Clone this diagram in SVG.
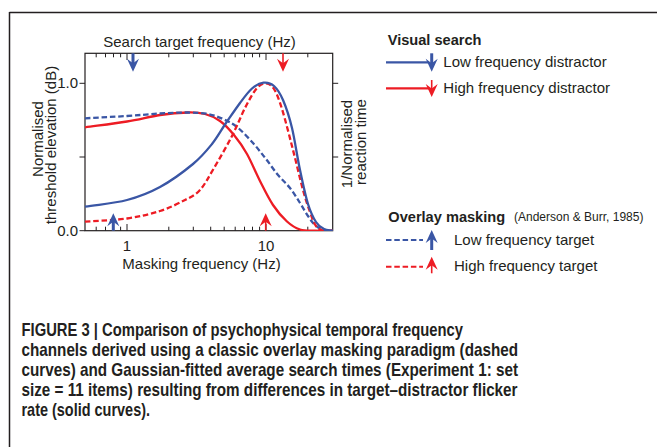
<svg xmlns="http://www.w3.org/2000/svg" xmlns:xlink="http://www.w3.org/1999/xlink" width="657" height="447" viewBox="0 0 657 447">
<style>
  text { font-family: "Liberation Sans", Arial, Helvetica, sans-serif; fill: #231f20; }
  .lbl { font-size: 15px; }
  .legh { font-size: 14.6px; font-weight: bold; }
  .small { font-size: 12px; }
  .cap { font-size: 17.8px; font-weight: bold; }
  .ax { fill: none; stroke: #231f20; stroke-width: 1.2; }
  .tk { stroke: #231f20; stroke-width: 1; }
  .blue { fill: none; stroke: #3a56a5; stroke-width: 2.3; }
  .red { fill: none; stroke: #ed1c24; stroke-width: 2.3; }
  .dash { stroke-dasharray: 5.5 2.8; }
  .bfill { fill: #3a56a5; }
  .rfill { fill: #ed1c24; }
</style>
<defs>
  <path id="hd" d="M0,0 L-6,-13 L0,-8.5 L6,-13 Z"/>
  <path id="hu" d="M0,0 L-6,13 L0,8.5 L6,13 Z"/>
  <clipPath id="plotclip"><rect x="85" y="53.3" width="247.7" height="177.7"/></clipPath>
</defs>

<g id="frame">
  <line x1="9.5" y1="12.5" x2="657" y2="12.5" stroke="#231f20" stroke-width="1.5"/>
  <line x1="9.5" y1="12" x2="9.5" y2="447" stroke="#231f20" stroke-width="1.5"/>
</g>

<g id="axes">
  <rect class="ax" x="85" y="53.3" width="247.7" height="177.4"/>
  <g id="bottom-ticks" class="tk">
    <line x1="96.2" y1="230.7" x2="96.2" y2="226.7"/>
    <line x1="105.5" y1="230.7" x2="105.5" y2="226.7"/>
    <line x1="113.5" y1="230.7" x2="113.5" y2="226.7"/>
    <line x1="120.6" y1="230.7" x2="120.6" y2="226.7"/>
    <line x1="127" y1="230.7" x2="127" y2="224"/>
    <line x1="168.8" y1="230.7" x2="168.8" y2="226.7"/>
    <line x1="193.3" y1="230.7" x2="193.3" y2="226.7"/>
    <line x1="210.7" y1="230.7" x2="210.7" y2="226.7"/>
    <line x1="224.2" y1="230.7" x2="224.2" y2="226.7"/>
    <line x1="235.2" y1="230.7" x2="235.2" y2="226.7"/>
    <line x1="244.5" y1="230.7" x2="244.5" y2="226.7"/>
    <line x1="252.5" y1="230.7" x2="252.5" y2="226.7"/>
    <line x1="259.6" y1="230.7" x2="259.6" y2="226.7"/>
    <line x1="266" y1="230.7" x2="266" y2="224"/>
    <line x1="307.8" y1="230.7" x2="307.8" y2="226.7"/>
  </g>
  <g id="top-ticks" class="tk">
    <line x1="96.2" y1="53.3" x2="96.2" y2="57.3"/>
    <line x1="105.5" y1="53.3" x2="105.5" y2="57.3"/>
    <line x1="113.5" y1="53.3" x2="113.5" y2="57.3"/>
    <line x1="120.6" y1="53.3" x2="120.6" y2="57.3"/>
    <line x1="127" y1="53.3" x2="127" y2="60"/>
    <line x1="168.8" y1="53.3" x2="168.8" y2="57.3"/>
    <line x1="193.3" y1="53.3" x2="193.3" y2="57.3"/>
    <line x1="210.7" y1="53.3" x2="210.7" y2="57.3"/>
    <line x1="224.2" y1="53.3" x2="224.2" y2="57.3"/>
    <line x1="235.2" y1="53.3" x2="235.2" y2="57.3"/>
    <line x1="244.5" y1="53.3" x2="244.5" y2="57.3"/>
    <line x1="252.5" y1="53.3" x2="252.5" y2="57.3"/>
    <line x1="259.6" y1="53.3" x2="259.6" y2="57.3"/>
    <line x1="266" y1="53.3" x2="266" y2="60"/>
    <line x1="307.8" y1="53.3" x2="307.8" y2="57.3"/>
  </g>
  <g id="y-ticks" class="tk">
    <line x1="85" y1="83.3" x2="79.5" y2="83.3"/>
    <line x1="85" y1="157" x2="79.5" y2="157"/>
    <line x1="85" y1="230.7" x2="79.5" y2="230.7"/>
    <line x1="332.7" y1="83.3" x2="338.2" y2="83.3"/>
    <line x1="332.7" y1="157" x2="338.2" y2="157"/>
  </g>
  <text class="lbl" x="78" y="88" text-anchor="end">1.0</text>
  <text class="lbl" x="78" y="235.5" text-anchor="end">0.0</text>
  <text class="lbl" x="127" y="250.5" text-anchor="middle">1</text>
  <text class="lbl" x="266" y="250.5" text-anchor="middle">10</text>
  <text class="lbl" x="201.5" y="269.3" text-anchor="middle">Masking frequency (Hz)</text>
  <text class="lbl" x="199.5" y="46.7" text-anchor="middle">Search target frequency (Hz)</text>
  <text class="lbl" transform="translate(42.5,139) rotate(-90)" text-anchor="middle">Normalised</text>
  <text class="lbl" transform="translate(56,145) rotate(-90)" text-anchor="middle">threshold elevation (dB)</text>
  <text class="lbl" transform="translate(352,144) rotate(-90)" text-anchor="middle">1/Normalised</text>
  <text class="lbl" transform="translate(366,142) rotate(-90)" text-anchor="middle">reaction time</text>
</g>

<g id="curves" clip-path="url(#plotclip)">
  <path id="red-solid" class="red" d="M85,127.3 C99,125.4 114.5,123.5 127,121.5 S149.8,116.5 160,115 S180.5,112.7 188,112.5 S199.7,112.6 205,114 S215.2,117.5 220,121 S229.5,129.5 234,135 S242.7,146.3 247,154 S255.7,172.5 260,181 S268.5,198.2 273,205 S282.5,217.4 287,221.5 S295.3,228 300,229.5 S309.5,230.5 315,230.7 S327,230.7 333,230.7"/>
  <path id="blue-dashed" class="blue dash" d="M85,118.3 C99,117.5 114.5,116.8 127,116 S149.8,114.1 160,113.5 S180,112.4 188,112.5 S202.2,112.9 208,114 S218.2,116.8 223,119 S232,123 237,127 S248.2,137.7 253,143 S261.8,153.7 266,159 S274,170.2 278,175 S286.3,183.3 290,188 S297,198.3 300,203 S305.5,212.3 308,216 S312.5,222.7 315,225 S320,228.8 323,229.8 S329.7,230.4 333,230.7"/>
  <path id="red-dashed" class="red dash" d="M85,221.7 C99,220.6 114.5,220.3 127,218.5 S150.3,214.1 160,211 S178.3,203.5 185,200 S195.2,195.3 200,190 S208.7,177 214,168 S226.7,146.3 232,136 S241.8,114 246,106 S253.7,91.8 257,88 S263.2,83.1 266,83.3 S271.3,84.7 274,89 S278.8,98.8 282,109 S289.5,136.5 293,150 S300.2,179.7 303,190 S307.8,206 310,212 S313.8,222.9 316,226 S320.2,229.7 323,230.5 S329.7,230.6 333,230.7"/>
  <path id="blue-solid" class="blue" d="M85,206.7 C99,204.5 114.5,203.3 127,200 S149,193 160,187 S184.3,171.2 193,164 S206.5,150.8 212,144 S221.3,129.8 226,123 S235.7,108.8 240,103 S248.1,91.9 252,88.5 S259.8,83.1 263.5,82.7 S270.8,83.1 274,86 S280,93 283,100 S289.2,116.3 292,128 S297.3,157.3 300,170 S305.3,195.3 308,204 S313.3,217.8 316,222 S321.2,227.6 324,229 S330,230.1 333,230.7"/>
</g>

<g id="plot-arrows">
  <g id="arrow-blue-top">
    <line x1="133" y1="53.3" x2="133" y2="65" stroke="#3a56a5" stroke-width="3"/>
    <use xlink:href="#hd" href="#hd" x="133" y="71.7" class="bfill"/>
  </g>
  <g id="arrow-red-top">
    <line x1="283" y1="53.3" x2="283" y2="65" stroke="#ed1c24" stroke-width="1.6"/>
    <use xlink:href="#hd" href="#hd" x="283" y="71.7" class="rfill"/>
  </g>
  <g id="arrow-blue-bottom">
    <line x1="113.3" y1="219" x2="113.3" y2="230.7" stroke="#3a56a5" stroke-width="3"/>
    <use xlink:href="#hu" href="#hu" x="113.3" y="213.3" class="bfill"/>
  </g>
  <g id="arrow-red-bottom">
    <line x1="265.7" y1="219" x2="265.7" y2="230.7" stroke="#ed1c24" stroke-width="1.6"/>
    <use xlink:href="#hu" href="#hu" x="265.7" y="213.3" class="rfill"/>
  </g>
</g>

<g id="legend-visual-search">
  <text class="legh" x="387.7" y="45">Visual search</text>
  <g id="leg-low-distractor">
    <line x1="386" y1="62.3" x2="429" y2="62.3" stroke="#3a56a5" stroke-width="2.3"/>
    <line x1="431.7" y1="53.3" x2="431.7" y2="65" stroke="#3a56a5" stroke-width="3"/>
    <use xlink:href="#hd" href="#hd" x="431.7" y="71.7" class="bfill"/>
    <text class="lbl" x="443.3" y="67.3">Low frequency distractor</text>
  </g>
  <g id="leg-high-distractor">
    <line x1="386" y1="88.3" x2="429" y2="88.3" stroke="#ed1c24" stroke-width="2.3"/>
    <line x1="431.7" y1="80" x2="431.7" y2="90" stroke="#ed1c24" stroke-width="1.6"/>
    <use xlink:href="#hd" href="#hd" x="431.7" y="97" class="rfill"/>
    <text class="lbl" x="443.3" y="93.3">High frequency distractor</text>
  </g>
</g>

<g id="legend-overlay-masking">
  <text class="legh" x="388.3" y="221.5">Overlay masking</text>
  <text class="small" x="514" y="220.5">(Anderson &amp; Burr, 1985)</text>
  <g id="leg-low-target">
    <line class="dash" x1="386" y1="240" x2="423" y2="240" stroke="#3a56a5" stroke-width="2"/>
    <line x1="431.7" y1="236" x2="431.7" y2="250" stroke="#3a56a5" stroke-width="3"/>
    <use xlink:href="#hu" href="#hu" x="431.7" y="230" class="bfill"/>
    <text class="lbl" x="454" y="245">Low frequency target</text>
  </g>
  <g id="leg-high-target">
    <line class="dash" x1="386" y1="266.7" x2="423" y2="266.7" stroke="#ed1c24" stroke-width="2"/>
    <line x1="431.7" y1="262" x2="431.7" y2="273.3" stroke="#ed1c24" stroke-width="1.6"/>
    <use xlink:href="#hu" href="#hu" x="431.7" y="256.7" class="rfill"/>
    <text class="lbl" x="454" y="271">High frequency target</text>
  </g>
</g>

<g id="caption">
  <text class="cap" x="21.5" y="335.5" textLength="441.5" lengthAdjust="spacingAndGlyphs">FIGURE 3 | Comparison of psychophysical temporal frequency</text>
  <text class="cap" x="21.5" y="355.7" textLength="496.5" lengthAdjust="spacingAndGlyphs">channels derived using a classic overlay masking paradigm (dashed</text>
  <text class="cap" x="21.5" y="376" textLength="496.5" lengthAdjust="spacingAndGlyphs">curves) and Gaussian-fitted average search times (Experiment 1: set</text>
  <text class="cap" x="21.5" y="396.2" textLength="496" lengthAdjust="spacingAndGlyphs">size = 11 items) resulting from differences in target–distractor flicker</text>
  <text class="cap" x="21.5" y="416.4" textLength="128.5" lengthAdjust="spacingAndGlyphs">rate (solid curves).</text>
</g>
</svg>
